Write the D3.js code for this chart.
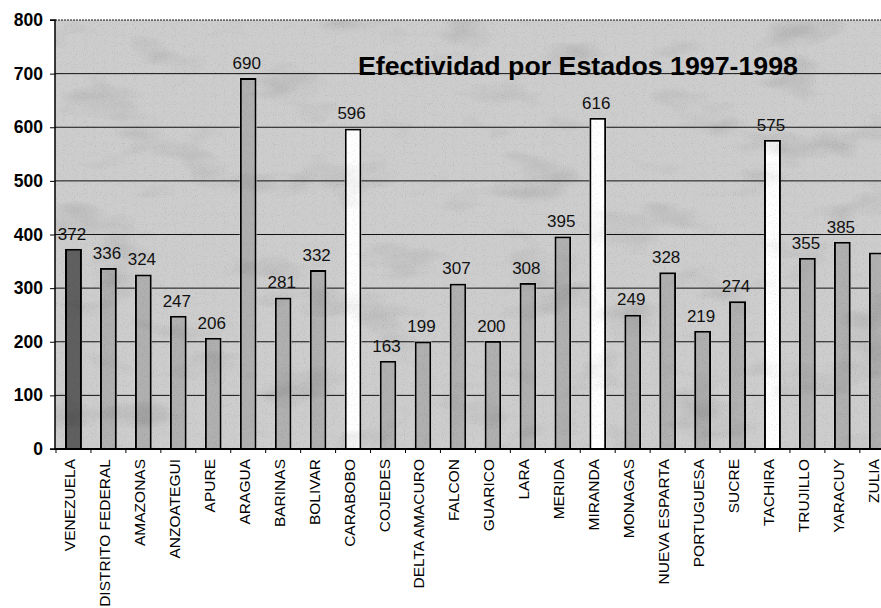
<!DOCTYPE html>
<html>
<head>
<meta charset="utf-8">
<script src="https://cdn.jsdelivr.net/npm/d3@7"></script>
<style>
  html, body { margin: 0; padding: 0; background: #fff; overflow: hidden; }
  svg { display: block; font-family: Arial, "Liberation Sans", sans-serif; }
</style>
</head>
<body>
<svg id="chart" width="881" height="608"></svg>
<script>
const categories = ["VENEZUELA","DISTRITO FEDERAL","AMAZONAS","ANZOATEGUI","APURE","ARAGUA","BARINAS","BOLIVAR","CARABOBO","COJEDES","DELTA AMACURO","FALCON","GUARICO","LARA","MERIDA","MIRANDA","MONAGAS","NUEVA ESPARTA","PORTUGUESA","SUCRE","TACHIRA","TRUJILLO","YARACUY","ZULIA"];
const values = [372,336,324,247,206,690,281,332,596,163,199,307,200,308,395,616,249,328,219,274,575,355,385,365];
const valueLabels = ["372","336","324","247","206","690","281","332","596","163","199","307","200","308","395","616","249","328","219","274","575","355","385",""];
const barKind = ["total","state","state","state","state","state","state","state","top","state","state","state","state","state","state","top","state","state","state","state","top","state","state","state"];
const yTicks = [0,100,200,300,400,500,600,700,800];
const title = "Efectividad por Estados 1997-1998";

const svg = d3.select("#chart");
const W = 881, H = 608;
const mLeft = 55, mTop = 20, mBottom = 449;
const nStep = 34.95;

const x = d3.scaleBand().domain(categories)
  .range([mLeft + 1, mLeft + 1 + nStep * categories.length])
  .paddingInner(0.57).paddingOuter(0.285);
const y = d3.scaleLinear().domain([0, 800]).range([mBottom, mTop]);

const defs = svg.append("defs");
const f = defs.append("filter").attr("id", "tex")
  .attr("filterUnits", "userSpaceOnUse").attr("x", 0).attr("y", 0).attr("width", W).attr("height", H);
f.append("feTurbulence").attr("type", "fractalNoise").attr("baseFrequency", "0.012 0.025")
  .attr("numOctaves", 3).attr("seed", 7).attr("result", "cloud");
f.append("feColorMatrix").attr("in", "cloud").attr("type", "matrix")
  .attr("values", "0.7 0 0 0 0.68  0.7 0 0 0 0.68  0.7 0 0 0 0.68  0 0 0 0 1").attr("result", "cloudG");
f.append("feTurbulence").attr("type", "fractalNoise").attr("baseFrequency", "0.9")
  .attr("numOctaves", 1).attr("seed", 3).attr("result", "grain");
f.append("feColorMatrix").attr("in", "grain").attr("type", "matrix")
  .attr("values", "0.7 0 0 0 0.68  0.7 0 0 0 0.68  0.7 0 0 0 0.68  0 0 0 0 1").attr("result", "grainG");
f.append("feBlend").attr("in", "cloudG").attr("in2", "grainG").attr("mode", "multiply").attr("result", "noise");
f.append("feBlend").attr("in", "SourceGraphic").attr("in2", "noise").attr("mode", "multiply").attr("result", "mix");
f.append("feComposite").attr("in", "mix").attr("in2", "SourceGraphic").attr("operator", "in");

// plot background
svg.append("rect").attr("x", mLeft).attr("y", mTop).attr("width", W - mLeft).attr("height", mBottom - mTop)
  .attr("fill", "#cdcdcd").attr("filter", "url(#tex)");

// gridlines
svg.append("g").selectAll("line").data(yTicks.filter(d => d > 0)).join("line")
  .attr("x1", mLeft).attr("x2", W).attr("y1", d => y(d)).attr("y2", d => y(d))
  .attr("stroke", "#111").attr("stroke-width", 1)
  .attr("stroke-dasharray", d => d === 800 ? "2,1" : null);

// title
svg.append("text").attr("x", 358).attr("y", 75).attr("font-size", 25).attr("font-weight", "bold")
  .attr("textLength", 440).attr("lengthAdjust", "spacingAndGlyphs")
  .attr("fill", "#000").text(title);

// bars
const fillFor = k => k === "total" ? "#606060" : (k === "top" ? "#ffffff" : "#b0b0b0");
svg.append("g").selectAll("rect").data(categories).join("rect")
  .attr("x", d => x(d)).attr("width", x.bandwidth())
  .attr("y", (d, i) => y(values[i])).attr("height", (d, i) => mBottom - y(values[i]))
  .attr("fill", (d, i) => fillFor(barKind[i]))
  .attr("stroke", "#000").attr("stroke-width", 2)
  .attr("filter", "url(#tex)");

// value labels
svg.append("g").selectAll("text").data(categories).join("text")
  .attr("x", d => x(d) + x.bandwidth() / 2 - 1.5)
  .attr("y", (d, i) => y(values[i]) - 10)
  .attr("text-anchor", "middle").attr("font-size", 17).attr("fill", "#111")
  .text((d, i) => valueLabels[i]);

// y axis
const yAxis = d3.axisLeft(y).tickValues(yTicks).tickSize(5).tickPadding(7).tickFormat(d3.format("d"));
const ya = svg.append("g").attr("transform", `translate(${mLeft},0)`).call(yAxis);
ya.select(".domain").attr("stroke", "#000").attr("stroke-width", 1.5).attr("d", `M-5,${mTop}H0V${mBottom}H-5`);
ya.selectAll(".tick line").attr("stroke", "#000");
ya.selectAll(".tick text").attr("font-size", 17.5).attr("font-weight", "bold").attr("fill", "#000")
  .attr("font-family", "Arial, 'Liberation Sans', sans-serif");

// x axis line and ticks at category boundaries
svg.append("line").attr("x1", mLeft).attr("x2", W).attr("y1", mBottom).attr("y2", mBottom)
  .attr("stroke", "#000").attr("stroke-width", 2);
const bounds = d3.range(categories.length + 1).map(i => mLeft + 1 + i * x.step());
svg.append("g").selectAll("line").data(bounds).join("line")
  .attr("x1", d => d).attr("x2", d => d).attr("y1", mBottom).attr("y2", mBottom + 4)
  .attr("stroke", "#000").attr("stroke-width", 1);

// x labels
svg.append("g").selectAll("text").data(categories).join("text")
  .attr("transform", d => `translate(${x(d) + x.bandwidth() / 2 + 1.5},459) rotate(-90)`)
  .attr("text-anchor", "end").attr("font-size", 15.5).attr("fill", "#000")
  .text(d => d);
</script>
</body>
</html>
